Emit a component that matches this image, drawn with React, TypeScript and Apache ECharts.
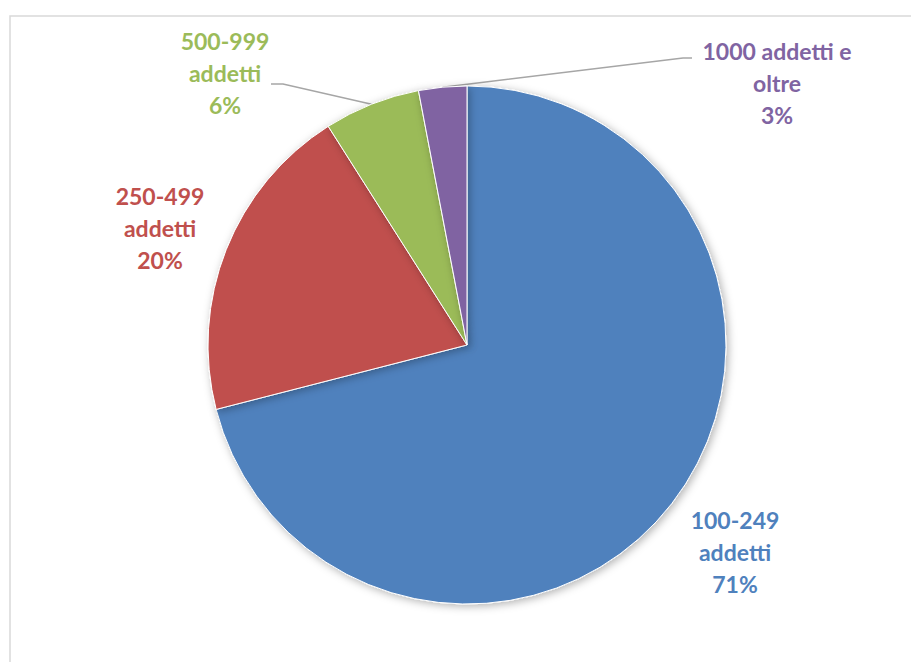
import React, { useEffect, useRef } from "react";
import * as echarts from "echarts";

const categories = ["100-249 addetti", "250-499 addetti", "500-999 addetti", "1000 addetti e oltre"];
const labelTexts = ["100-249\naddetti", "250-499\naddetti", "500-999\naddetti", "1000 addetti e\noltre"];
const values = [71, 20, 6, 3];
const colors = ["#4F81BD", "#C0504D", "#9BBB59", "#8064A2"];
const labelPos: [number, number][] = [
  [735, 552],
  [160, 228],
  [225, 73],
  [777, 83],
];
// leader line bend/end points (label side) for the small slices
const leaderEnds: ([number, number][] | null)[] = [
  null,
  null,
  [
    [283, 84],
    [271, 84],
  ],
  [
    [683, 58],
    [692, 58],
  ],
];

export default function App() {
  const ref = useRef<HTMLDivElement>(null);
  useEffect(() => {
    document.body.style.margin = "0";
    const chart = echarts.init(ref.current!, undefined, { renderer: "svg" });
    chart.setOption({
      animation: false,
      backgroundColor: "#ffffff",
      graphic: [
        {
          type: "rect",
          shape: { x: 10, y: 16, width: 1000, height: 1000 },
          style: { fill: "none", stroke: "#d9d9d9", lineWidth: 1.5 },
          silent: true,
          z: 0,
        },
      ],
      series: [
        {
          type: "pie",
          center: [467, 345],
          radius: 259,
          startAngle: 90,
          clockwise: true,
          avoidLabelOverlap: false,
          data: categories.map((c, i) => ({
            name: c,
            value: values[i],
            itemStyle: { color: colors[i] },
            label: { color: colors[i] },
            labelLine: { show: leaderEnds[i] != null },
          })),
          itemStyle: {
            borderColor: "#ffffff",
            borderWidth: 1,
            shadowBlur: 8,
            shadowColor: "rgba(0,0,0,0.3)",
            shadowOffsetX: 2,
            shadowOffsetY: 2,
          },
          label: {
            show: true,
            position: "outside",
            formatter: (p: any) => `${labelTexts[p.dataIndex]}\n${p.value}%`,
            fontFamily: "Lato, 'Open Sans', sans-serif",
            fontWeight: "bold",
            fontSize: 23,
            lineHeight: 32,
            align: "center",
          },
          labelLine: {
            show: true,
            length: 0,
            length2: 0,
            lineStyle: { color: "#a6a6a6", width: 1.5 },
            smooth: false,
          },
          labelLayout: (p: any) => {
            const i = p.dataIndex;
            const res: any = {
              x: labelPos[i][0],
              y: labelPos[i][1],
              align: "center",
              verticalAlign: "middle",
            };
            const ends = leaderEnds[i];
            if (ends && p.labelLinePoints && p.labelLinePoints[0]) {
              res.labelLinePoints = [p.labelLinePoints[0], ...ends];
            }
            return res;
          },
          emphasis: { disabled: true },
        },
      ],
    });
    return () => chart.dispose();
  }, []);
  return <div ref={ref} style={{ width: 911, height: 662 }} />;
}
